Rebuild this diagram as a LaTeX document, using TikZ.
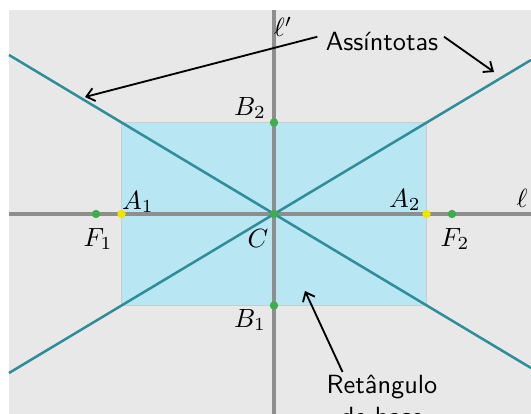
\documentclass[tikz,border=0pt]{standalone}
\usepackage{tikz}
\usetikzlibrary{positioning, arrows.meta, calc}
\usepackage{amsmath}
\usepackage{amssymb}
\definecolor{PanelGray}{HTML}{E8E8E8}
\definecolor{BoxCyan}{HTML}{B8E6F2}
\definecolor{BoxEdge}{HTML}{C6CED2}
\definecolor{AsymTeal}{HTML}{2E8C9B}
\definecolor{AxisGray}{HTML}{8E8E8E}
\definecolor{DotGreen}{HTML}{3DAE4B}
\definecolor{DotYellow}{HTML}{F0E400}

\begin{document}
\begin{tikzpicture}[
      x=0.38pt, y=-0.38pt,
      axis/.style={AxisGray, line width=1.15pt},
      asym/.style={AsymTeal, line width=0.95pt},
      gdot/.style={circle, fill=DotGreen, minimum size=3.2pt, inner sep=0pt},
      ydot/.style={circle, fill=DotYellow, minimum size=3.2pt, inner sep=0pt},
      tag/.style={inner sep=0pt},
      callout/.style={font=\sffamily, inner sep=1pt, align=center},
      pointer/.style={black, line width=0.7pt, -{Straight Barb[length=3pt, width=5pt]}}
  ]
    \useasboundingbox (0,0) rectangle (531,414);
    \fill[PanelGray] (9,10) rectangle (531,414);

    % base rectangle
    \filldraw[fill=BoxCyan, draw=BoxEdge, line width=0.75pt] (121.5,122.5) rectangle (426.5,305.5);

    % axes
    \draw[axis] (9,214) -- (531,214);
    \draw[axis] (274,10) -- (274,414);

    % asymptotes
    \coordinate (ul) at (9,55);
    \coordinate (lr) at (531,368);
    \coordinate (ll) at (9,373);
    \coordinate (ur) at (531,60);
    \draw[asym] (ul) -- (lr);
    \draw[asym] (ll) -- (ur);

    % points
    \node[gdot](C) at (274,214){};
    \node[gdot](B2) at (274,122.5){};
    \node[gdot](B1) at (274,305.5){};
    \node[gdot](F1) at (96,214){};
    \node[gdot](F2) at (452,214){};
    \node[ydot](A1) at (121.5,214){};
    \node[ydot](A2) at (426.5,214){};

    \node[tag] at (250,108){$B_2$};
    \node[tag] at (250,320){$B_1$};
    \node[tag] at (138,202){$A_1$};
    \node[tag] at (405,200){$A_2$};
    \node[tag] at (98,239){$F_1$};
    \node[tag] at (455,239){$F_2$};
    \node[tag] at (258,239){$C$};
    \node[tag] at (283,27){$\ell'$};
    \node[tag] at (522,198){$\ell$};

    % callouts
    \node[callout](asst) at (382,42){Ass\'intotas};
    \coordinate (tipL) at (85,97);
    \coordinate (tipR) at (494,72);
    \draw[pointer] (asst.west) ++(-2pt,2pt) -- (tipL);
    \draw[pointer] (asst.east) ++(1pt,2pt) -- (tipR);

    \node[callout, anchor=north](rect) at (382,372){Ret\^angulo\\de base};
    \coordinate (tipB) at (305,291);
    \draw[pointer] ([xshift=-15pt]rect.north) -- (tipB);
  \end{tikzpicture}
\end{document}
